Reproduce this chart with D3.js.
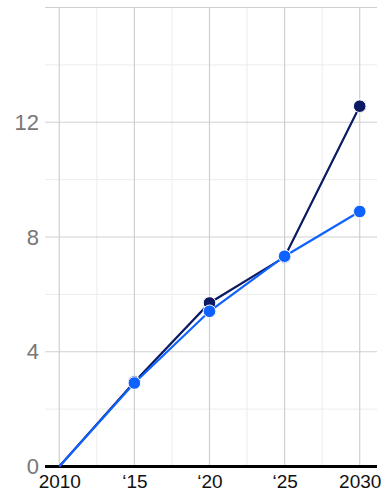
<!DOCTYPE html>
<html>
<head>
<meta charset="utf-8">
<script src="https://cdn.jsdelivr.net/npm/d3@7"></script>
<style>
  html, body { margin: 0; padding: 0; background: #fff; }
  svg { display: block; font-family: "Liberation Sans", Arial, sans-serif; }
</style>
</head>
<body>
<svg id="chart" width="392" height="499"></svg>
<script>
const years = [2010, 2015, 2020, 2025, 2030]
const navySeries = [null, 2.95, 5.7, 7.3, 12.56]
const blueSeries = [0, 2.91, 5.41, 7.33, 8.89]
const yTicks = [0, 4, 8, 12]
const xTickLabels = ["2010", "\u201815", "\u201820", "\u201825", "2030"]

const width = 392, height = 499
const margin = { top: 7.5, right: 15, bottom: 32.5, left: 45 }

const svg = d3.select("#chart")

const x = d3.scaleLinear()
  .domain([2009.05, 2031.15])
  .range([margin.left, width - margin.right])

const y = d3.scaleLinear()
  .domain([0, 16])
  .range([height - margin.bottom, margin.top])

// minor grid
const grid = svg.append("g")
grid.append("g")
  .selectAll("line")
  .data(d3.range(0, 16.1, 2).filter(d => d % 4 !== 0))
  .join("line")
  .attr("x1", margin.left).attr("x2", width - margin.right)
  .attr("y1", d => y(d)).attr("y2", d => y(d))
  .attr("stroke", "#ececec").attr("stroke-width", 1)

grid.append("g")
  .selectAll("line")
  .data(d3.range(2012.5, 2030, 5))
  .join("line")
  .attr("x1", d => x(d)).attr("x2", d => x(d))
  .attr("y1", margin.top).attr("y2", y(0))
  .attr("stroke", "#ececec").attr("stroke-width", 1)

// major grid
grid.append("g")
  .selectAll("line")
  .data([4, 8, 12, 16])
  .join("line")
  .attr("x1", margin.left).attr("x2", width - margin.right)
  .attr("y1", d => y(d)).attr("y2", d => y(d))
  .attr("stroke", "#d0d0d0").attr("stroke-width", 1.2)

grid.append("g")
  .selectAll("line")
  .data(years)
  .join("line")
  .attr("x1", d => x(d)).attr("x2", d => x(d))
  .attr("y1", margin.top).attr("y2", y(0))
  .attr("stroke", "#d0d0d0").attr("stroke-width", 1.2)

// y axis labels
svg.append("g")
  .attr("transform", `translate(${margin.left},0)`)
  .call(d3.axisLeft(y).tickValues(yTicks).tickSize(0).tickPadding(6))
  .call(g => g.select(".domain").remove())
  .call(g => g.selectAll("text")
    .attr("fill", "#777")
    .attr("font-size", 22)
    .attr("font-family", "Liberation Sans, Arial, sans-serif"))

// x axis
svg.append("g")
  .attr("transform", `translate(0,${y(0)})`)
  .call(d3.axisBottom(x).tickValues(years).tickSize(0).tickPadding(8)
    .tickFormat((d, i) => xTickLabels[i]))
  .call(g => g.select(".domain").remove())
  .call(g => g.selectAll("text")
    .attr("fill", "#111")
    .attr("font-size", 19)
    .attr("font-family", "Liberation Sans, Arial, sans-serif"))

svg.append("line")
  .attr("x1", margin.left).attr("x2", width - margin.right)
  .attr("y1", y(0)).attr("y2", y(0))
  .attr("stroke", "#000").attr("stroke-width", 3)

const line = d3.line()
  .defined(d => d.v !== null)
  .x(d => x(d.year))
  .y(d => y(d.v))

const series = [
  { name: "navy", color: "#0b1a63", values: navySeries },
  { name: "blue", color: "#0f62fe", values: blueSeries }
]

series.forEach(s => {
  const pts = years.map((yr, i) => ({ year: yr, v: s.values[i] }))
  // navy line starts from the blue line's 2010 origin
  const linePts = s.name === "navy" ? [{ year: years[0], v: blueSeries[0] }, ...pts.slice(1)] : pts
  svg.append("path")
    .datum(linePts)
    .attr("fill", "none")
    .attr("stroke", s.color)
    .attr("stroke-width", 2.2)
    .attr("d", line)

  svg.append("g")
    .selectAll("circle")
    .data(pts.filter(d => d.v !== null && d.year !== 2010))
    .join("circle")
    .attr("cx", d => x(d.year))
    .attr("cy", d => y(d.v))
    .attr("r", 6.3)
    .attr("fill", s.color)
    .attr("stroke", "#fff")
    .attr("stroke-width", 1)
})
</script>
</body>
</html>
